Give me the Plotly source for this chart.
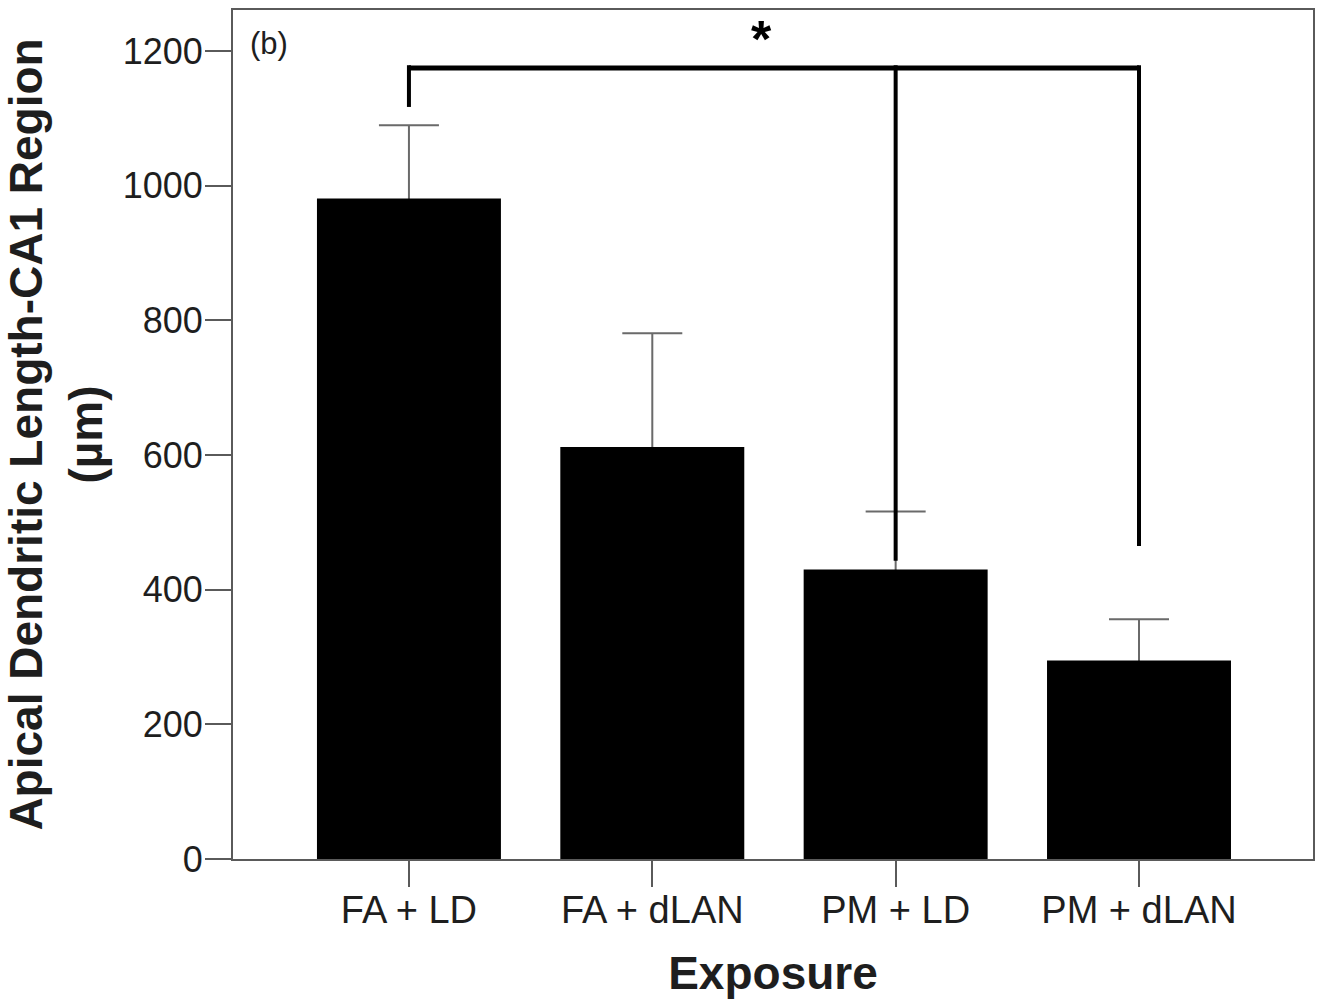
import plotly.graph_objects as go

# Group means and standard errors of apical dendritic length (µm)
categories = ["FA + LD", "FA + dLAN", "PM + LD", "PM + dLAN"]
mean_length = [981, 612, 430, 295]
sem_length = [109, 169, 86, 61]
y_ticks = [0, 200, 400, 600, 800, 1000, 1200]

# Significance bracket: joins FA + LD to both PM groups
bracket_y = 1175
bracket_legs = {0: 1117, 2: 443, 3: 465}

AXIS_GREY = "#5a5a5a"
TEXT = "#1e1e1e"
FONT = "Liberation Sans, Arial, Helvetica, sans-serif"
BAR_WIDTH = 0.756

fig = go.Figure()
# Error bars sit in a transparent trace underneath, so the lower half is hidden by the bars
fig.add_trace(go.Bar(
    x=categories,
    y=mean_length,
    width=BAR_WIDTH,
    marker=dict(color="rgba(0,0,0,0)", line=dict(width=0)),
    error_y=dict(type="data", array=sem_length, color="#6a6a6a", thickness=2, width=30),
    showlegend=False, hoverinfo="skip",
))
fig.add_trace(go.Bar(
    x=categories,
    y=mean_length,
    width=BAR_WIDTH,
    marker=dict(color="black", line=dict(width=0)),
    showlegend=False,
))

# Bracket: horizontal bar plus one leg per compared group
fig.add_shape(type="line", xref="x", yref="y",
              x0=0, x1=3, y0=bracket_y, y1=bracket_y,
              line=dict(color="black", width=5))
for xi, y_end in bracket_legs.items():
    fig.add_shape(type="line", xref="x", yref="y",
                  x0=xi, x1=xi, y0=bracket_y + 4, y1=y_end,
                  line=dict(color="black", width=4))

fig.add_annotation(x=1.45, y=1218, xref="x", yref="y", text="<b>*</b>",
                   showarrow=False, font=dict(size=52, color="black", family=FONT))
fig.add_annotation(x=0.014, y=0.984, xref="paper", yref="paper", text="(b)",
                   showarrow=False, xanchor="left", yanchor="top",
                   font=dict(size=31, color=TEXT, family=FONT))

fig.update_layout(
    width=1325, height=1006,
    margin=dict(l=233, r=12, t=8, b=147),
    plot_bgcolor="white", paper_bgcolor="white",
    barmode="overlay",
    font=dict(family=FONT, color=TEXT),
)
fig.update_xaxes(
    range=[-0.723, 3.715],
    showline=True, linecolor=AXIS_GREY, linewidth=2, mirror=True,
    ticks="outside", ticklen=26, tickwidth=2, tickcolor=AXIS_GREY,
    tickfont=dict(size=38, color=TEXT), ticklabelstandoff=-10,
    showgrid=False, zeroline=False,
    title=dict(text="<b>Exposure</b>", font=dict(size=46, color=TEXT), standoff=27),
)
fig.update_yaxes(
    range=[0, 1261],
    tickvals=y_ticks,
    showline=True, linecolor=AXIS_GREY, linewidth=2, mirror=True,
    ticks="outside", ticklen=26, tickwidth=2, tickcolor=AXIS_GREY,
    tickfont=dict(size=36, color=TEXT), ticklabelstandoff=-5,
    showgrid=False, zeroline=False,
    title=dict(text="<b>Apical Dendritic Length-CA1 Region<br>(µm)</b>",
               font=dict(size=46, color=TEXT), standoff=16),
)

fig.write_html("out.html")
